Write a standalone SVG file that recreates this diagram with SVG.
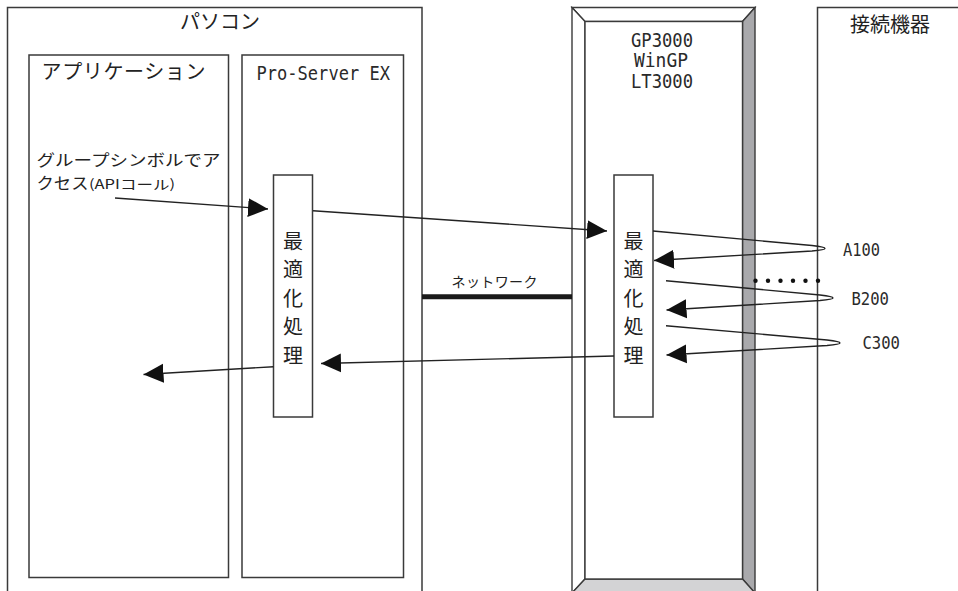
<svg xmlns="http://www.w3.org/2000/svg" width="958" height="591" viewBox="0 0 958 591">
<style>
.box{fill:#fff;stroke:#3a3a3a;stroke-width:1.5}
.ln{fill:none;stroke:#222;stroke-width:1.4}
.jp{font-family:"Noto Sans CJK JP","Noto Sans",sans-serif;fill:#222}
.mn{font-family:"DejaVu Sans Mono","Liberation Mono",monospace;fill:#2a2a2a}
</style>
<defs>
<marker id="ah" markerUnits="userSpaceOnUse" markerWidth="20" markerHeight="20" viewBox="0 0 18 17" refX="18" refY="8.5" orient="auto">
<path d="M0,0 L18,8.5 L0,17 z" fill="#111"/>
</marker>
</defs>
<rect width="958" height="591" fill="#fff"/>

<g id="pasocon">
<rect class="box" x="7.5" y="7.5" width="414.5" height="600"/>
<text class="jp" x="220" y="29" font-size="20" text-anchor="middle">パソコン</text>
</g>
<g id="application">
<rect class="box" x="29" y="55" width="199.5" height="522.5"/>
<text class="jp" x="41.5" y="79" font-size="20" textLength="164" lengthAdjust="spacing">アプリケーション</text>
<text class="jp" font-size="15.8"><tspan x="36.5" y="165.5" textLength="184" lengthAdjust="spacingAndGlyphs">グループシンボルでア</tspan><tspan x="36.5" y="188.5" textLength="52" lengthAdjust="spacingAndGlyphs">クセス</tspan><tspan x="89" y="188.5" font-size="13" textLength="86" lengthAdjust="spacingAndGlyphs">(APIコール)</tspan></text>
</g>
<g id="proserver">
<rect class="box" x="242" y="55" width="161.5" height="522.5"/>
<text class="mn" x="256.5" y="80" font-size="19" textLength="133.5" lengthAdjust="spacingAndGlyphs">Pro-Server EX</text>
</g>
<g id="opt-left">
<rect class="box" x="273.5" y="175" width="39" height="242"/>
<text class="jp" x="293" font-size="20" text-anchor="middle"><tspan x="293" y="248.5">最</tspan><tspan x="293" y="277">適</tspan><tspan x="293" y="305.5">化</tspan><tspan x="293" y="334">処</tspan><tspan x="293" y="362.5">理</tspan></text>
</g>

<g id="gp3000">
<polygon points="572,7.5 755,7.5 742.5,21.5 585,21.5" fill="#fff" stroke="#3a3a3a" stroke-width="1.4"/>
<polygon points="572,7.5 585,21.5 585,579 572,593" fill="#fff" stroke="#3a3a3a" stroke-width="1.4"/>
<polygon points="755,7.5 742.5,21.5 742.5,579 755,593" fill="#a9a9ac" stroke="#3a3a3a" stroke-width="1.4"/>
<polygon points="585,579 742.5,579 755,593 572,593" fill="#d3d3d5" stroke="#3a3a3a" stroke-width="1.4"/>
<rect x="585" y="21.5" width="157.5" height="557.5" fill="#fff" stroke="#3a3a3a" stroke-width="1.4"/>
<text class="mn" font-size="19" text-anchor="middle"><tspan x="662" y="47" textLength="62" lengthAdjust="spacingAndGlyphs">GP3000</tspan><tspan x="661" y="67" textLength="54" lengthAdjust="spacingAndGlyphs">WinGP</tspan><tspan x="662" y="87.5" textLength="62" lengthAdjust="spacingAndGlyphs">LT3000</tspan></text>
</g>
<g id="opt-right">
<rect class="box" x="614" y="175" width="39" height="242"/>
<text class="jp" x="633.5" font-size="20" text-anchor="middle"><tspan x="633.5" y="248.5">最</tspan><tspan x="633.5" y="277">適</tspan><tspan x="633.5" y="305.5">化</tspan><tspan x="633.5" y="334">処</tspan><tspan x="633.5" y="362.5">理</tspan></text>
</g>

<g id="devices">
<rect class="box" x="817.5" y="7.5" width="200" height="600"/>
<text class="jp" x="890" y="32" font-size="20" text-anchor="middle">接続機器</text>
<text class="mn" x="843" y="255.5" font-size="18" textLength="37" lengthAdjust="spacingAndGlyphs">A100</text>
<text class="mn" x="851.5" y="305" font-size="18" textLength="37.5" lengthAdjust="spacingAndGlyphs">B200</text>
<text class="mn" x="862.5" y="349" font-size="18" textLength="37.5" lengthAdjust="spacingAndGlyphs">C300</text>
<g fill="#111">
<circle cx="755.5" cy="280.7" r="2.2"/><circle cx="768" cy="280.7" r="2.2"/><circle cx="780.5" cy="280.7" r="2.2"/><circle cx="793" cy="280.7" r="2.2"/><circle cx="805.5" cy="280.7" r="2.2"/><circle cx="818" cy="280.7" r="2.2"/>
</g>
</g>

<g id="network">
<line x1="422" y1="296.8" x2="572" y2="296.8" stroke="#1a1a1a" stroke-width="5"/>
<text class="jp" x="494.5" y="287" font-size="14" text-anchor="middle" textLength="86" lengthAdjust="spacing">ネットワーク</text>
</g>

<g id="connectors">
<line class="ln" x1="115" y1="198" x2="268" y2="209" marker-end="url(#ah)"/>
<line class="ln" x1="313" y1="210.7" x2="607" y2="231" marker-end="url(#ah)"/>
<line class="ln" x1="614" y1="356" x2="321" y2="363.5" marker-end="url(#ah)"/>
<line class="ln" x1="273.5" y1="366.7" x2="143.5" y2="374.5" marker-end="url(#ah)"/>
<path class="ln" d="M653,231 L812,245.5 Q838,248.5 812,251 L654,260.5" marker-end="url(#ah)"/>
<path class="ln" d="M666,280.7 L820,295 Q846,298 820,300.5 L666.5,310" marker-end="url(#ah)"/>
<path class="ln" d="M666,325.7 L827,340 Q853,343 827,345.5 L666.5,355" marker-end="url(#ah)"/>
</g>
</svg>
